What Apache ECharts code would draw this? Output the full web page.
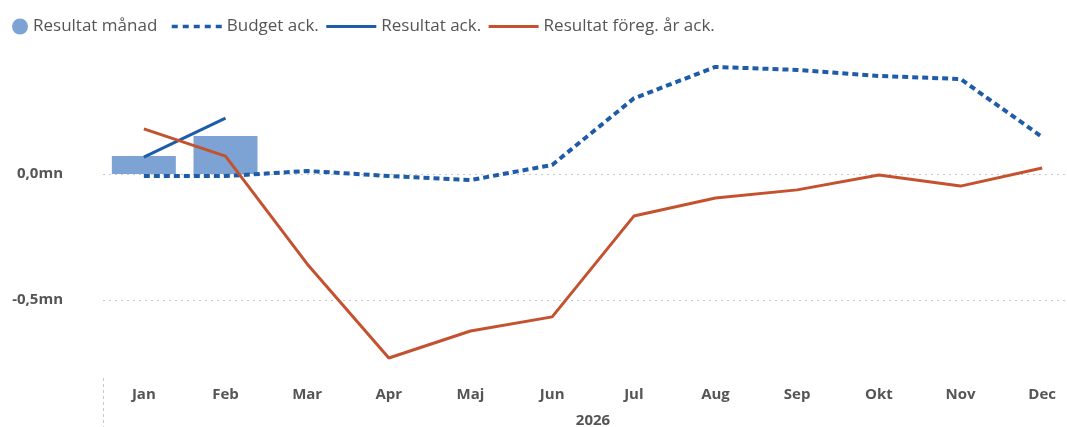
<!DOCTYPE html>
<html>
<head>
<meta charset="utf-8">
<script src="https://cdn.jsdelivr.net/npm/echarts@6/dist/echarts.min.js"></script>
<style>
html,body{margin:0;padding:0;background:#fff;}
#c{width:1067px;height:427px;}
</style>
</head>
<body>
<div id="c"></div>
<script>
const months = ['Jan','Feb','Mar','Apr','Maj','Jun','Jul','Aug','Sep','Okt','Nov','Dec'];
const yearLabel = '2026';
const resultatManad = [0.071, 0.151, null, null, null, null, null, null, null, null, null, null];
const budgetAck = [-0.008, -0.008, 0.012, -0.008, -0.024, 0.036, 0.30, 0.425, 0.413, 0.389, 0.377, 0.147];
const resultatAck = [0.067, 0.222, null, null, null, null, null, null, null, null, null, null];
const foregAck = [0.179, 0.071, -0.357, -0.730, -0.623, -0.567, -0.167, -0.095, -0.063, -0.004, -0.048, 0.024];
const yTicks = [-0.75, -0.5, -0.25, 0, 0.25, 0.5];
const shownTicks = [-0.5, 0];

const font = 'Open Sans';
const blue = '#1f5ca8', orange = '#c4522f', barBlue = '#7ca3d4';
const chart = echarts.init(document.getElementById('c'));
const fmt = v => {
  const r = Math.round(v * 100) / 100;
  if (!shownTicks.some(t => Math.abs(t - r) < 1e-9)) return '';
  return r.toFixed(1).replace('.', ',') + 'mn';
};
const legendText = {fontFamily: font, fontSize: 17, color: '#555'};
chart.setOption({
  animation: false,
  textStyle: {fontFamily: font},
  legend: [{
    left: 7, top: 13,
    itemWidth: 16, itemHeight: 16,
    textStyle: legendText,
    data: [{name: 'Resultat månad', icon: 'circle', itemStyle: {color: barBlue}}]
  }, {
    left: 165, top: 13,
    itemGap: 6,
    itemWidth: 50, itemHeight: 16,
    textStyle: legendText,
    data: [
      {name: 'Budget ack.', itemStyle: {opacity: 0}, lineStyle: {color: blue, width: 3.5, type: [6, 5]}},
      {name: 'Resultat ack.', itemStyle: {opacity: 0}, lineStyle: {color: blue, width: 3}},
      {name: 'Resultat föreg. år ack.', itemStyle: {opacity: 0}, lineStyle: {color: orange, width: 3}}
    ]
  }],
  grid: {left: 103, right: -16, top: 48, bottom: 64, outerBoundsMode: 'none', containLabel: false},
  xAxis: [{
    type: 'category',
    data: months,
    boundaryGap: true,
    axisLine: {show: false},
    axisTick: {show: false},
    axisLabel: {margin: 24, fontFamily: font, fontSize: 15, fontWeight: 'bold', color: '#555'},
    name: yearLabel,
    nameLocation: 'middle',
    nameGap: 50,
    nameTextStyle: {fontFamily: font, fontSize: 15, fontWeight: 'bold', color: '#555'}
  }, {
    type: 'category',
    data: months,
    position: 'bottom',
    offset: 15,
    boundaryGap: true,
    axisLine: {show: false},
    axisLabel: {show: false},
    axisTick: {show: true, interval: (i) => i === 0, length: 50,
      lineStyle: {color: '#c8c8c8', type: [3, 3], width: 1}}
  }],
  yAxis: {
    type: 'value',
    min: yTicks[0], max: yTicks[yTicks.length - 1], interval: 0.25,
    axisLine: {show: false},
    axisTick: {show: false},
    axisLabel: {formatter: fmt, margin: 40, fontFamily: font, fontSize: 15, fontWeight: 'bold', color: '#555'},
    splitLine: {show: true, lineStyle: {
      color: yTicks.map(t => shownTicks.includes(t) ? '#c8c8c8' : 'rgba(0,0,0,0)'),
      type: [2, 4], width: 1
    }}
  },
  series: [
    {
      name: 'Resultat månad', type: 'bar', data: resultatManad,
      barWidth: 64, itemStyle: {color: barBlue}, z: 1
    },
    {
      name: 'Budget ack.', type: 'line', data: budgetAck,
      symbol: 'none', smooth: false,
      lineStyle: {color: blue, width: 4, type: [6, 4]},
      itemStyle: {color: blue}, z: 3
    },
    {
      name: 'Resultat ack.', type: 'line', data: resultatAck,
      symbol: 'none',
      lineStyle: {color: blue, width: 3},
      itemStyle: {color: blue}, z: 3
    },
    {
      name: 'Resultat föreg. år ack.', type: 'line', data: foregAck,
      symbol: 'none',
      lineStyle: {color: orange, width: 3},
      itemStyle: {color: orange}, z: 4
    }
  ]
});
</script>
</body>
</html>
